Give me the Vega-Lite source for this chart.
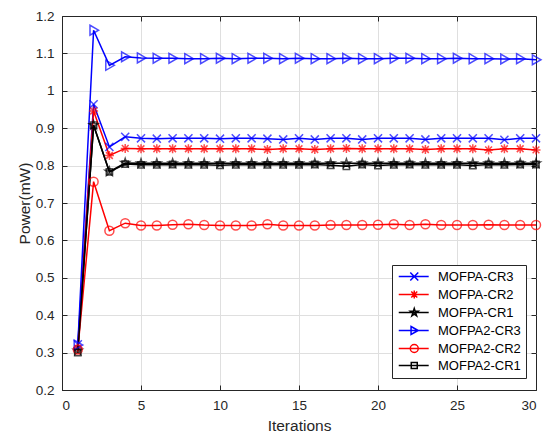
{
  "$schema": "https://vega.github.io/schema/vega-lite/v6.json",
  "width": 474,
  "height": 374,
  "autosize": "none",
  "padding": {"left": 62, "top": 16, "right": 12, "bottom": 47},
  "background": "white",
  "config": {
    "font": "Liberation Sans",
    "view": {"stroke": "#262626", "strokeWidth": 1},
    "legend": {"strokeColor": "#262626", "strokeWidth": 1, "fillColor": "white"},
    "axis": {
      "labelFont": "Liberation Sans",
      "titleFont": "Liberation Sans",
      "labelFontSize": 13.5,
      "titleFontSize": 15.5,
      "titleFontWeight": "normal",
      "labelColor": "#262626",
      "titleColor": "#262626",
      "domainColor": "#262626",
      "tickColor": "#262626",
      "grid": false,
      "labelOverlap": false
    }
  },
  "data": {
    "values": [
      {"Iteration": 1, "MOFPA-CR3": 0.322, "MOFPA-CR2": 0.312, "MOFPA-CR1": 0.305, "MOFPA2-CR3": 0.320, "MOFPA2-CR2": 0.308, "MOFPA2-CR1": 0.300},
      {"Iteration": 2, "MOFPA-CR3": 0.964, "MOFPA-CR2": 0.946, "MOFPA-CR1": 0.908, "MOFPA2-CR3": 1.162, "MOFPA2-CR2": 0.757, "MOFPA2-CR1": 0.908},
      {"Iteration": 3, "MOFPA-CR3": 0.850, "MOFPA-CR2": 0.827, "MOFPA-CR1": 0.784, "MOFPA2-CR3": 1.068, "MOFPA2-CR2": 0.626, "MOFPA2-CR1": 0.783},
      {"Iteration": 4, "MOFPA-CR3": 0.877, "MOFPA-CR2": 0.846, "MOFPA-CR1": 0.807, "MOFPA2-CR3": 1.091, "MOFPA2-CR2": 0.646, "MOFPA2-CR1": 0.804},
      {"Iteration": 5, "MOFPA-CR3": 0.873, "MOFPA-CR2": 0.845, "MOFPA-CR1": 0.806, "MOFPA2-CR3": 1.088, "MOFPA2-CR2": 0.640, "MOFPA2-CR1": 0.802},
      {"Iteration": 6, "MOFPA-CR3": 0.872, "MOFPA-CR2": 0.845, "MOFPA-CR1": 0.806, "MOFPA2-CR3": 1.087, "MOFPA2-CR2": 0.640, "MOFPA2-CR1": 0.802},
      {"Iteration": 7, "MOFPA-CR3": 0.873, "MOFPA-CR2": 0.845, "MOFPA-CR1": 0.806, "MOFPA2-CR3": 1.087, "MOFPA2-CR2": 0.642, "MOFPA2-CR1": 0.803},
      {"Iteration": 8, "MOFPA-CR3": 0.873, "MOFPA-CR2": 0.845, "MOFPA-CR1": 0.806, "MOFPA2-CR3": 1.086, "MOFPA2-CR2": 0.643, "MOFPA2-CR1": 0.802},
      {"Iteration": 9, "MOFPA-CR3": 0.873, "MOFPA-CR2": 0.845, "MOFPA-CR1": 0.806, "MOFPA2-CR3": 1.086, "MOFPA2-CR2": 0.641, "MOFPA2-CR1": 0.802},
      {"Iteration": 10, "MOFPA-CR3": 0.872, "MOFPA-CR2": 0.845, "MOFPA-CR1": 0.806, "MOFPA2-CR3": 1.087, "MOFPA2-CR2": 0.640, "MOFPA2-CR1": 0.801},
      {"Iteration": 11, "MOFPA-CR3": 0.873, "MOFPA-CR2": 0.845, "MOFPA-CR1": 0.806, "MOFPA2-CR3": 1.086, "MOFPA2-CR2": 0.640, "MOFPA2-CR1": 0.802},
      {"Iteration": 12, "MOFPA-CR3": 0.873, "MOFPA-CR2": 0.845, "MOFPA-CR1": 0.806, "MOFPA2-CR3": 1.087, "MOFPA2-CR2": 0.640, "MOFPA2-CR1": 0.802},
      {"Iteration": 13, "MOFPA-CR3": 0.872, "MOFPA-CR2": 0.843, "MOFPA-CR1": 0.806, "MOFPA2-CR3": 1.087, "MOFPA2-CR2": 0.643, "MOFPA2-CR1": 0.802},
      {"Iteration": 14, "MOFPA-CR3": 0.870, "MOFPA-CR2": 0.845, "MOFPA-CR1": 0.806, "MOFPA2-CR3": 1.086, "MOFPA2-CR2": 0.640, "MOFPA2-CR1": 0.802},
      {"Iteration": 15, "MOFPA-CR3": 0.873, "MOFPA-CR2": 0.845, "MOFPA-CR1": 0.806, "MOFPA2-CR3": 1.087, "MOFPA2-CR2": 0.640, "MOFPA2-CR1": 0.802},
      {"Iteration": 16, "MOFPA-CR3": 0.870, "MOFPA-CR2": 0.843, "MOFPA-CR1": 0.806, "MOFPA2-CR3": 1.086, "MOFPA2-CR2": 0.640, "MOFPA2-CR1": 0.803},
      {"Iteration": 17, "MOFPA-CR3": 0.873, "MOFPA-CR2": 0.845, "MOFPA-CR1": 0.806, "MOFPA2-CR3": 1.086, "MOFPA2-CR2": 0.641, "MOFPA2-CR1": 0.801},
      {"Iteration": 18, "MOFPA-CR3": 0.873, "MOFPA-CR2": 0.846, "MOFPA-CR1": 0.806, "MOFPA2-CR3": 1.087, "MOFPA2-CR2": 0.641, "MOFPA2-CR1": 0.798},
      {"Iteration": 19, "MOFPA-CR3": 0.870, "MOFPA-CR2": 0.845, "MOFPA-CR1": 0.806, "MOFPA2-CR3": 1.086, "MOFPA2-CR2": 0.641, "MOFPA2-CR1": 0.803},
      {"Iteration": 20, "MOFPA-CR3": 0.873, "MOFPA-CR2": 0.845, "MOFPA-CR1": 0.806, "MOFPA2-CR3": 1.086, "MOFPA2-CR2": 0.642, "MOFPA2-CR1": 0.800},
      {"Iteration": 21, "MOFPA-CR3": 0.873, "MOFPA-CR2": 0.845, "MOFPA-CR1": 0.806, "MOFPA2-CR3": 1.087, "MOFPA2-CR2": 0.643, "MOFPA2-CR1": 0.802},
      {"Iteration": 22, "MOFPA-CR3": 0.873, "MOFPA-CR2": 0.845, "MOFPA-CR1": 0.806, "MOFPA2-CR3": 1.087, "MOFPA2-CR2": 0.641, "MOFPA2-CR1": 0.803},
      {"Iteration": 23, "MOFPA-CR3": 0.870, "MOFPA-CR2": 0.843, "MOFPA-CR1": 0.806, "MOFPA2-CR3": 1.086, "MOFPA2-CR2": 0.643, "MOFPA2-CR1": 0.802},
      {"Iteration": 24, "MOFPA-CR3": 0.873, "MOFPA-CR2": 0.845, "MOFPA-CR1": 0.806, "MOFPA2-CR3": 1.086, "MOFPA2-CR2": 0.641, "MOFPA2-CR1": 0.802},
      {"Iteration": 25, "MOFPA-CR3": 0.873, "MOFPA-CR2": 0.845, "MOFPA-CR1": 0.806, "MOFPA2-CR3": 1.087, "MOFPA2-CR2": 0.641, "MOFPA2-CR1": 0.802},
      {"Iteration": 26, "MOFPA-CR3": 0.873, "MOFPA-CR2": 0.845, "MOFPA-CR1": 0.806, "MOFPA2-CR3": 1.086, "MOFPA2-CR2": 0.641, "MOFPA2-CR1": 0.800},
      {"Iteration": 27, "MOFPA-CR3": 0.873, "MOFPA-CR2": 0.842, "MOFPA-CR1": 0.806, "MOFPA2-CR3": 1.086, "MOFPA2-CR2": 0.642, "MOFPA2-CR1": 0.803},
      {"Iteration": 28, "MOFPA-CR3": 0.869, "MOFPA-CR2": 0.845, "MOFPA-CR1": 0.806, "MOFPA2-CR3": 1.085, "MOFPA2-CR2": 0.641, "MOFPA2-CR1": 0.802},
      {"Iteration": 29, "MOFPA-CR3": 0.873, "MOFPA-CR2": 0.845, "MOFPA-CR1": 0.806, "MOFPA2-CR3": 1.086, "MOFPA2-CR2": 0.641, "MOFPA2-CR1": 0.803},
      {"Iteration": 30, "MOFPA-CR3": 0.873, "MOFPA-CR2": 0.842, "MOFPA-CR1": 0.806, "MOFPA2-CR3": 1.083, "MOFPA2-CR2": 0.641, "MOFPA2-CR1": 0.803}
    ]
  },
  "transform": [
    {"fold": ["MOFPA-CR3", "MOFPA-CR2", "MOFPA-CR1", "MOFPA2-CR3", "MOFPA2-CR2", "MOFPA2-CR1"], "as": ["Series", "Power"]}
  ],
  "encoding": {
    "x": {"field": "Iteration", "type": "quantitative", "scale": {"domain": [0, 30], "nice": false, "zero": false}, "axis": null},
    "y": {"field": "Power", "type": "quantitative", "scale": {"domain": [0.2, 1.2], "nice": false, "zero": false}, "axis": null},
    "color": {
      "field": "Series", "type": "nominal",
      "scale": {
        "domain": ["MOFPA-CR3", "MOFPA-CR2", "MOFPA-CR1", "MOFPA2-CR3", "MOFPA2-CR2", "MOFPA2-CR1"],
        "range": ["#0000ff", "#ff0000", "#000000", "#0000ff", "#ff0000", "#000000"]
      },
      "legend": {
        "title": null,
        "orient": "none",
        "legendX": 330,
        "legendY": 249,
        "fillColor": "white",
        "strokeColor": "#262626",
        "padding": 5,
        "rowPadding": 3,
        "labelFont": "Liberation Sans",
        "labelFontSize": 13,
        "labelColor": "#000000",
        "symbolSize": 64,
        "symbolStrokeWidth": 1.5,
        "symbolOffset": 0,
        "labelOffset": 28,
        "encode": {
          "symbols": {
            "update": {
              "fill": {"value": "transparent"},
              "shape": {"signal": "datum.value === 'MOFPA-CR3' ? 'M-1.19,0L6.3,0M1.69,-1L3.69,1M3.69,-1L1.69,1' : datum.value === 'MOFPA-CR2' ? 'M-1.19,0L6.3,0M2.69,-1L2.69,1M1.69,0L3.69,0M1.94,-0.75L3.44,0.75M1.94,0.75L3.44,-0.75' : datum.value === 'MOFPA-CR1' ? 'M-1.19,0L6.3,0M2.69,-1L2.915,-0.309L3.641,-0.309L3.053,0.118L3.278,0.809L2.69,0.382L2.102,0.809L2.327,0.118L1.739,-0.309L2.465,-0.309Z' : datum.value === 'MOFPA2-CR3' ? 'M-1.19,0L6.3,0M1.89,-1L3.69,0L1.89,1Z' : datum.value === 'MOFPA2-CR2' ? 'M-1.19,0L6.3,0M1.69,0A1,1,0,1,1,3.69,0A1,1,0,1,1,1.69,0Z' : 'M-1.19,0L6.3,0M1.94,-0.75L3.44,-0.75L3.44,0.75L1.94,0.75Z'"}
            }
          }
        }
      }
    }
  },
  "layer": [
    {
      "mark": {"type": "line", "strokeWidth": 1.5},
      "encoding": {
        "x": {
          "field": "Iteration", "type": "quantitative",
          "scale": {"domain": [0, 30], "nice": false, "zero": false},
          "axis": {"orient": "bottom", "values": [5, 10, 15, 20, 25], "tickSize": -374, "tickColor": "#dfdfdf", "tickWidth": 1, "labels": false, "domain": false, "title": null, "grid": false}
        },
        "y": {
          "field": "Power", "type": "quantitative",
          "scale": {"domain": [0.2, 1.2], "nice": false, "zero": false},
          "axis": {"orient": "left", "values": [0.3, 0.4, 0.5, 0.6, 0.7, 0.8, 0.9, 1.0, 1.1], "tickSize": -474, "tickColor": "#dfdfdf", "tickWidth": 1, "labels": false, "domain": false, "title": null, "grid": false}
        },
        "detail": {"field": "Series"}
      }
    },
    {
      "transform": [{"filter": "datum.Series === 'MOFPA-CR3'"}],
      "mark": {"type": "point", "filled": false, "strokeWidth": 1.5, "size": 81, "shape": "M-0.9,-0.9L0.9,0.9M0.9,-0.9L-0.9,0.9"},
      "encoding": {
        "x": {
          "field": "Iteration", "type": "quantitative",
          "scale": {"domain": [0, 30], "nice": false, "zero": false},
          "axis": {"orient": "bottom", "title": "Iterations", "values": [0, 5, 10, 15, 20, 25, 30], "tickSize": -5, "labelPadding": 13, "titlePadding": 7, "grid": false}
        },
        "y": {
          "field": "Power", "type": "quantitative",
          "scale": {"domain": [0.2, 1.2], "nice": false, "zero": false},
          "axis": {"orient": "left", "title": "Power(mW)", "values": [0.2, 0.3, 0.4, 0.5, 0.6, 0.7, 0.8, 0.9, 1.0, 1.1, 1.2], "format": ".1~f", "tickSize": -5, "labelPadding": 13, "titlePadding": 3, "grid": false}
        }
      }
    },
    {
      "transform": [{"filter": "datum.Series === 'MOFPA-CR2'"}],
      "mark": {"type": "point", "filled": false, "strokeWidth": 1.5, "size": 81, "shape": "M-1,0L1,0M0,-1L0,1M-0.75,-0.75L0.75,0.75M-0.75,0.75L0.75,-0.75"},
      "encoding": {
        "x": {
          "field": "Iteration", "type": "quantitative",
          "scale": {"domain": [0, 30], "nice": false, "zero": false},
          "axis": {"orient": "top", "values": [5, 10, 15, 20, 25], "tickSize": -5, "labels": false, "domain": false, "title": null, "grid": false}
        },
        "y": {
          "field": "Power", "type": "quantitative",
          "scale": {"domain": [0.2, 1.2], "nice": false, "zero": false},
          "axis": {"orient": "right", "values": [0.3, 0.4, 0.5, 0.6, 0.7, 0.8, 0.9, 1.0, 1.1], "tickSize": -5, "labels": false, "domain": false, "title": null, "grid": false}
        }
      }
    },
    {
      "transform": [{"filter": "datum.Series === 'MOFPA-CR1'"}],
      "mark": {"type": "point", "filled": false, "strokeWidth": 1.5, "size": 81, "shape": "M0,-1L0.225,-0.309L0.951,-0.309L0.363,0.118L0.588,0.809L0,0.382L-0.588,0.809L-0.363,0.118L-0.951,-0.309L-0.225,-0.309Z"}
    },
    {
      "transform": [{"filter": "datum.Series === 'MOFPA2-CR3'"}],
      "mark": {"type": "point", "filled": false, "strokeWidth": 1.5, "size": 81, "shape": "M-0.8,-1.1L1.1,0L-0.8,1.1Z"}
    },
    {
      "transform": [{"filter": "datum.Series === 'MOFPA2-CR2'"}],
      "mark": {"type": "point", "filled": false, "strokeWidth": 1.5, "size": 81, "shape": "M-1,0A1,1,0,1,1,1,0A1,1,0,1,1,-1,0Z"}
    },
    {
      "transform": [{"filter": "datum.Series === 'MOFPA2-CR1'"}],
      "mark": {"type": "point", "filled": false, "strokeWidth": 1.5, "size": 81, "shape": "M-0.7,-0.7L0.7,-0.7L0.7,0.7L-0.7,0.7Z"}
    }
  ],
  "resolve": {"axis": {"x": "independent", "y": "independent"}}
}
